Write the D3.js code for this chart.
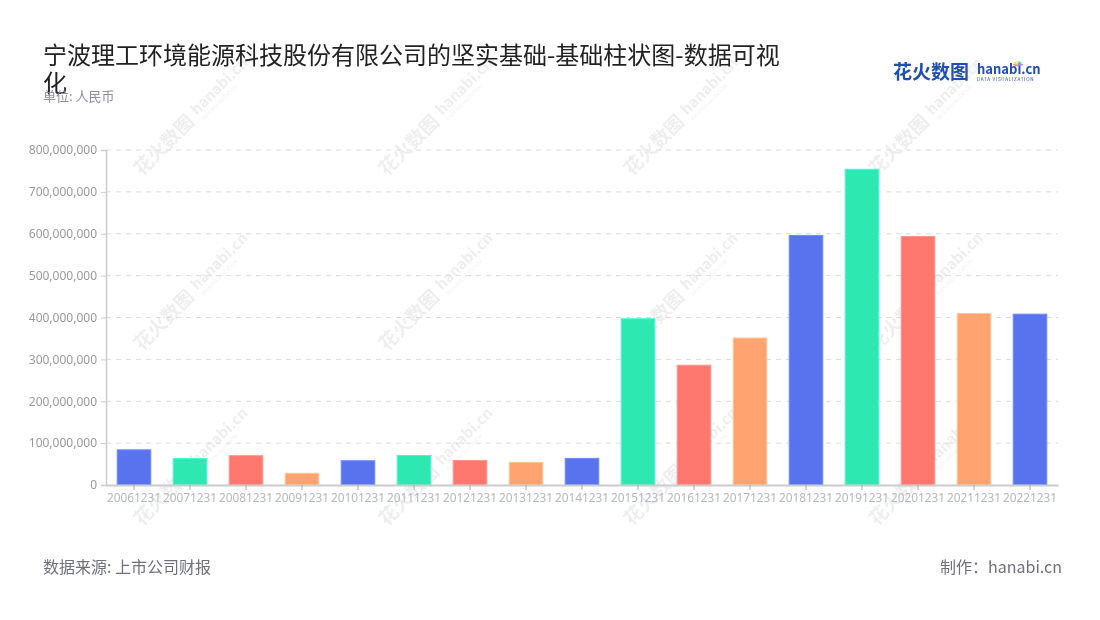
<!DOCTYPE html>
<html lang="zh">
<head>
  <meta charset="UTF-8">
  <title>宁波理工环境能源科技股份有限公司的坚实基础</title>
  <script src="https://d3js.org/d3.v7.min.js"></script>
  <style>
    body { margin: 0; background: #fff; }
    svg { display: block; font-family: "Noto Sans CJK SC", "Noto Sans", sans-serif; }
  </style>
</head>
<body>
<svg id="chart" width="1100" height="620"></svg>
<script>
// data
var years = ["20061231", "20071231", "20081231", "20091231", "20101231", "20111231",
  "20121231", "20131231", "20141231", "20151231", "20161231", "20171231",
  "20181231", "20191231", "20201231", "20211231", "20221231"];
var values = [84e6, 63e6, 70e6, 28e6, 58e6, 70.5e6, 58.5e6, 54e6, 63.5e6,
  397e6, 286e6, 351e6, 596e6, 754e6, 593.5e6, 409.5e6, 408e6];
var yTicks = [0, 1e8, 2e8, 3e8, 4e8, 5e8, 6e8, 7e8, 8e8];
var palette = ["#5973ee", "#2ee8b2", "#ff7870", "#ffa370"];

var svg = d3.select("#chart");

// faint watermarks
var wmX = [180, 425, 670, 915], wmY = [130, 305, 480];
var wm = svg.append("g").attr("opacity", 0.07);
wmY.forEach(function(y) {
  wmX.forEach(function(x) {
    var g = wm.append("g").attr("transform", "translate(" + x + "," + y + ") rotate(-45)");
    g.append("text").attr("x", -60).attr("y", 6).attr("font-size", 19).attr("font-weight", "bold")
      .attr("fill", "#000").text("花火数图");
    g.append("text").attr("x", 22).attr("y", 2).attr("font-size", 15).attr("font-weight", "bold")
      .attr("fill", "#000").text("hanabi.cn");
    g.append("text").attr("x", 23).attr("y", 10).attr("font-size", 5)
      .attr("fill", "#000").text("DATA VISUALIZATION");
  });
});

var x = d3.scaleBand().domain(years).range([106, 1058]).paddingInner(0.4).paddingOuter(0.2);
var y = d3.scaleLinear().domain([0, 8e8]).range([485, 150]);

// grid
svg.append("g").selectAll("line").data(yTicks.slice(1)).enter().append("line")
  .attr("x1", 106).attr("x2", 1058)
  .attr("y1", function(d) { return y(d); }).attr("y2", function(d) { return y(d); })
  .attr("stroke", "#dcdcdc").attr("stroke-dasharray", "5,5");

// bars
svg.append("g").selectAll("rect").data(values).enter().append("rect")
  .attr("x", function(d, i) { return x(years[i]); })
  .attr("y", function(d) { return y(d); })
  .attr("width", x.bandwidth())
  .attr("height", function(d) { return y(0) - y(d); })
  .attr("fill", function(d, i) { return palette[i % 4]; })
  .attr("stroke", function(d, i) { return d3.color(palette[i % 4]).brighter(0.6); })
  .attr("stroke-width", 1);

// y axis
var yAxis = svg.append("g").attr("transform", "translate(106,0)")
  .call(d3.axisLeft(y).tickValues(yTicks).tickFormat(d3.format(",")).tickSize(5).tickPadding(4));
yAxis.select(".domain").attr("stroke", "#cccccc").attr("stroke-width", 1.5);
yAxis.selectAll(".tick line").attr("stroke", "#cccccc");
yAxis.selectAll("text").attr("fill", "#9a9a9a").attr("font-size", 12).attr("font-family", "Noto Sans, sans-serif");

// x axis
var xAxis = svg.append("g").attr("transform", "translate(0,485)")
  .call(d3.axisBottom(x).tickSize(5).tickPadding(4).tickSizeOuter(0));
xAxis.select(".domain").attr("stroke", "#cccccc").attr("stroke-width", 2);
xAxis.selectAll(".tick line").attr("stroke", "#aaaaaa");
xAxis.selectAll("text").attr("fill", "#b3b7c6").attr("font-size", 11.8).attr("font-family", "Noto Sans, sans-serif");

// title, wrapped onto two lines like the original
var title = svg.append("text").attr("x", 43).attr("y", 64).attr("font-size", 24).attr("fill", "#222");
title.append("tspan").attr("x", 43).text("宁波理工环境能源科技股份有限公司的坚实基础-基础柱状图-数据可视");
title.append("tspan").attr("x", 43).attr("dy", 28).text("化");

svg.append("text").attr("x", 43).attr("y", 101).attr("font-size", 13).attr("fill", "#8d8d9c")
  .text("单位: 人民币");

// logo
svg.append("text").attr("x", 893).attr("y", 79).attr("font-size", 19).attr("font-weight", "bold")
  .attr("fill", "#1f4fb0").text("花火数图");
svg.append("text").attr("x", 977).attr("y", 74).attr("font-size", 13).attr("font-weight", "bold")
  .attr("fill", "#1f4fb0").text("hanabi.cn");
svg.append("text").attr("x", 977).attr("y", 81).attr("font-size", 4.6).attr("letter-spacing", 0.7)
  .attr("fill", "#1f4fb0").text("DATA VISUALIZATION");
var spark = ["#ff6b6b", "#ffb84d", "#ffe14d", "#5bd96b", "#4db8ff", "#b06bff"];
svg.append("g").selectAll("line").data(spark).enter().append("line")
  .attr("x1", 1018).attr("y1", 66)
  .attr("x2", function(d, i) { return 1018 + 5 * Math.cos(Math.PI * (1.1 + i * 0.16)); })
  .attr("y2", function(d, i) { return 66 + 5 * Math.sin(Math.PI * (1.1 + i * 0.16)); })
  .attr("stroke", function(d) { return d; }).attr("stroke-width", 1.3);

// footer
svg.append("text").attr("x", 43).attr("y", 573).attr("font-size", 16).attr("fill", "#6f6f7f")
  .text("数据来源: 上市公司财报");
svg.append("text").attr("x", 1062).attr("y", 573).attr("font-size", 16).attr("fill", "#6f6f7f")
  .attr("text-anchor", "end").text("制作：hanabi.cn");
</script>
</body>
</html>
